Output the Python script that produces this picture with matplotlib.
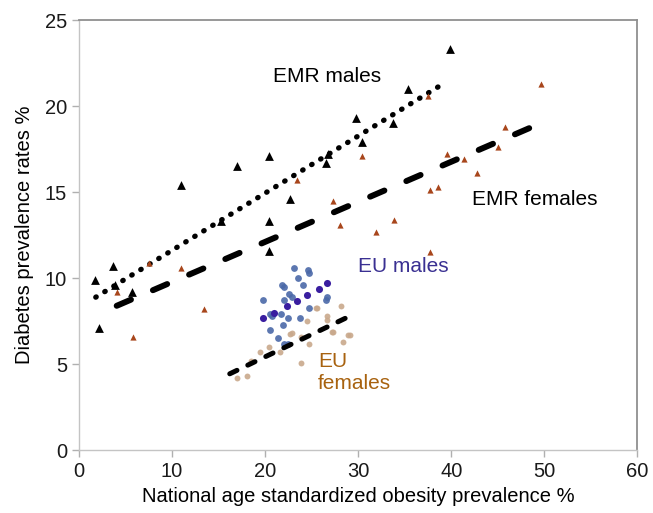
import numpy as np
import matplotlib
matplotlib.use("Agg")
import matplotlib.pyplot as plt

plt.rcParams['font.family'] = ['Liberation Sans', 'DejaVu Sans']

# EMR males (black triangles)
emr_m_x = [1.7, 2.1, 3.7, 3.9, 5.7, 11.0, 15.3, 17.0, 20.4, 20.4, 20.4, 22.7,
           26.5, 26.8, 29.8, 30.4, 33.7, 35.4, 39.9]
emr_m_y = [9.9, 7.1, 10.7, 9.6, 9.2, 15.4, 13.3, 16.5, 17.1, 13.3, 11.6, 14.6,
           16.7, 17.2, 19.3, 17.9, 19.0, 21.0, 23.3]

# EMR females (brown triangles)
emr_f_x = [4.1, 5.8, 7.5, 11.0, 13.4, 23.4, 27.3, 28.1, 30.4, 31.9, 33.8, 37.5,
           37.7, 37.7, 38.6, 39.5, 41.4, 42.8, 45.0, 45.8, 49.6]
emr_f_y = [9.2, 6.6, 10.9, 10.6, 8.2, 15.7, 14.5, 13.1, 17.1, 12.7, 13.4, 20.6,
           15.1, 11.5, 15.3, 17.2, 16.9, 16.1, 17.6, 18.8, 21.3]

# EU males (blue circles), two shades
eu_m_x = [23.1, 24.6, 24.7, 23.5, 21.8, 22.0, 24.1, 22.6, 22.9, 26.7, 26.5,
          19.8, 22.0, 24.7, 20.5, 20.7, 21.7, 22.5, 23.8, 21.9, 20.5, 21.4,
          22.0, 22.5]
eu_m_y = [10.6, 10.5, 10.3, 10.0, 9.6, 9.5, 9.6, 9.1, 8.9, 8.9, 8.75,
          8.75, 8.75, 8.3, 7.9, 7.8, 7.9, 7.7, 7.7, 7.3, 7.0, 6.55,
          6.2, 6.2]
eu_m_dark_x = [25.8, 26.7, 24.5, 23.4, 22.3, 21.0, 19.8]
eu_m_dark_y = [9.35, 9.7, 9.0, 8.7, 8.4, 8.0, 7.7]

# EU females (tan circles)
eu_f_x = [25.6, 24.5, 26.6, 26.7, 22.7, 23.9, 24.7, 27.2, 28.9, 20.4, 19.5,
          21.6, 23.9, 18.5, 17.0, 18.0, 28.2, 29.1, 28.4, 25.5, 22.9, 27.3]
eu_f_y = [8.3, 7.5, 7.8, 7.6, 6.75, 6.6, 6.2, 6.9, 6.7, 6.0, 5.7,
          5.7, 5.1, 5.2, 4.2, 4.35, 8.4, 6.7, 6.3, 8.3, 6.8, 6.9]

# trend lines (end points)
trend_emr_m_x = [1.8, 39.0]
trend_emr_m_y = [8.9, 21.25]
trend_emr_f_x = [4.05, 49.6]
trend_emr_f_y = [8.4, 19.0]
trend_eu_f_x = [16.2, 29.1]
trend_eu_f_y = [4.45, 7.8]

fig = plt.figure(figsize=(6.53, 5.13), dpi=100)
ax = fig.add_axes([0.121, 0.122, 0.855, 0.839])

ax.plot(trend_emr_m_x, trend_emr_m_y, color='black', lw=3.8,
        linestyle=(0, (0.1, 1.9)), dash_capstyle='round', zorder=3)
ax.plot(trend_emr_f_x, trend_emr_f_y, color='black', lw=4.3,
        linestyle=(0, (2.6, 4.0)), dash_capstyle='round', zorder=3)
ax.plot(trend_eu_f_x, trend_eu_f_y, color='black', lw=3.6,
        linestyle=(0, (1.6, 2.4)), dash_capstyle='round', zorder=3)

ax.scatter(eu_f_x, eu_f_y, s=18, color='#c9a98c', alpha=0.9, lw=0, zorder=2)
ax.scatter(eu_m_x, eu_m_y, s=24, color='#4a68a8', alpha=0.9, lw=0, zorder=2)
ax.scatter(eu_m_dark_x, eu_m_dark_y, s=26, color='#3a1ea0', lw=0, zorder=2)
ax.scatter(emr_f_x, emr_f_y, marker='^', s=20, color='#a8461c', lw=0, zorder=4)
ax.scatter(emr_m_x, emr_m_y, marker='^', s=40, color='black', lw=0, zorder=4)

ax.text(26.7, 21.7, 'EMR males', fontsize=15, ha='center', va='center')
ax.text(49.0, 14.6, 'EMR females', fontsize=15, ha='center', va='center')
ax.text(34.9, 10.7, 'EU males', fontsize=15, ha='center', va='center', color='#3a3092')
ax.text(25.7, 4.5, 'EU\nfemales', fontsize=15, ha='left', va='center',
        color='#a8620f', linespacing=1.2)

ax.set_xlim(0, 60)
ax.set_ylim(0, 25)
ax.set_xticks(range(0, 61, 10))
ax.set_yticks(range(0, 26, 5))
ax.tick_params(labelsize=14.5, length=5, width=1, color='#b0b0b0', labelcolor='#1a1a1a')

for side in ['top', 'right']:
    ax.spines[side].set_color('#909090')
    ax.spines[side].set_linewidth(1.3)
for side in ['left', 'bottom']:
    ax.spines[side].set_color('#c4c4c4')
    ax.spines[side].set_linewidth(1.0)

ax.set_xlabel('National age standardized obesity prevalence %', fontsize=14.5, labelpad=4)
ax.set_ylabel('Diabetes prevalence rates %', fontsize=14.5, labelpad=8)

fig.savefig('out.png', dpi=100)
